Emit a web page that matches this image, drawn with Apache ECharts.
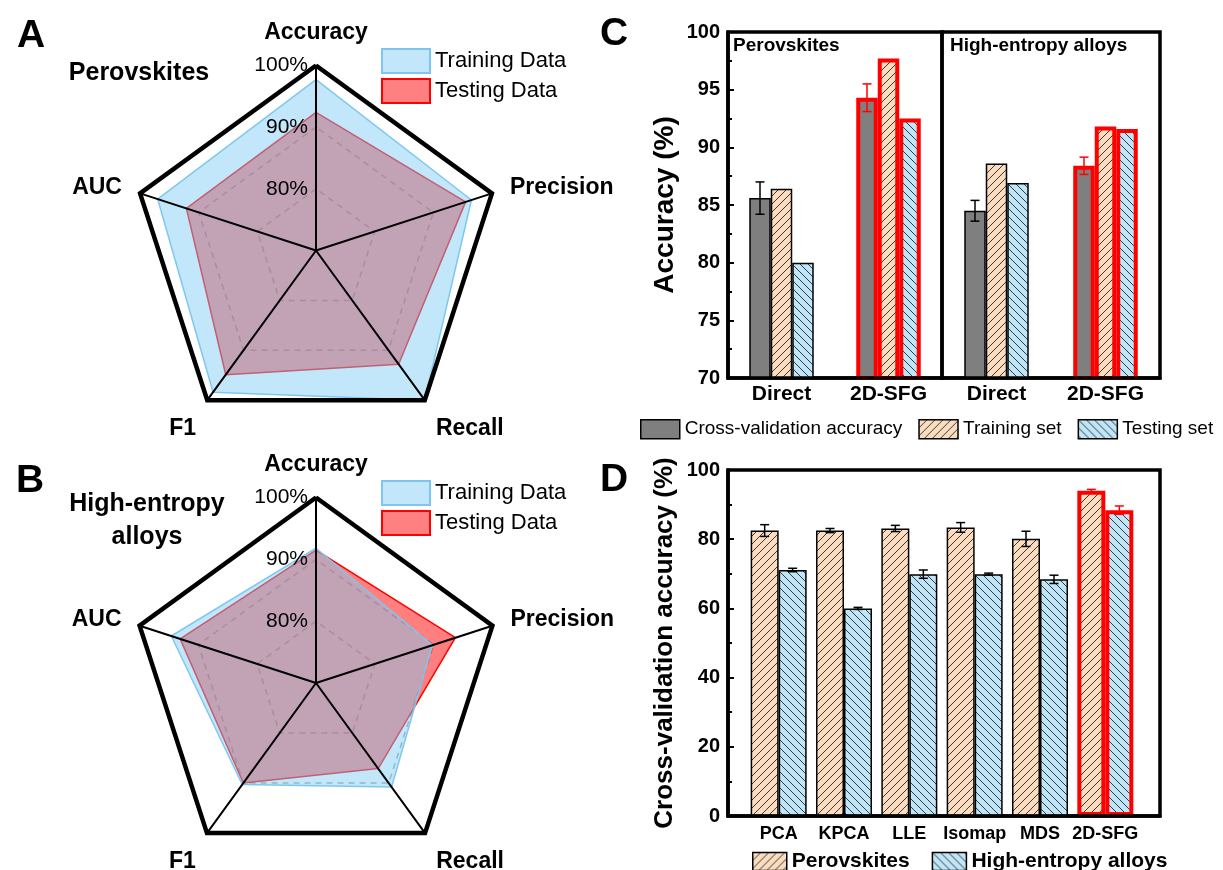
<!DOCTYPE html>
<html>
<head>
<meta charset="utf-8">
<script src="https://cdn.jsdelivr.net/npm/echarts/dist/echarts.min.js"></script>
<style>
  html, body { margin: 0; padding: 0; background: #fff; }
  #chart { width: 1223px; height: 870px; }
</style>
</head>
<body>
<div id="chart"></div>
<script>
// ---------- Radar panels (A: perovskites, B: high-entropy alloys) ----------
const metrics = ['Accuracy', 'Precision', 'Recall', 'F1', 'AUC'];
const perovTrainRadar = [97.7, 96.5, 100.0, 98.4, 97.0];
const perovTestRadar  = [92.4, 95.5, 92.8, 94.9, 92.1];
const heaTrainRadar   = [91.8, 89.8, 90.8, 90.3, 94.6];
const heaTestRadar    = [91.5, 93.7, 87.1, 90.0, 93.1];
const radarMin = 70, radarMax = 100;

// ---------- Panel C: accuracy per representation ----------
const methodsC = ['Direct', '2D-SFG'];
const cvPerov = [85.6, 94.3];
const cvPerovErr = [1.4, 1.2];
const trainPerov = [86.4, 97.7];
const testPerov = [80.0, 92.5];
const cvHea = [84.5, 88.4];
const cvHeaErr = [0.9, 0.75];
const trainHea = [88.6, 91.8];
const testHea = [86.9, 91.6];
const ticksC = { min: 70, max: 100, step: 5 };

// ---------- Panel D: cross-validation accuracy per method ----------
const methodsD = ['PCA', 'KPCA', 'LLE', 'Isomap', 'MDS', '2D-SFG'];
const perovCV    = [82.5, 82.5, 83.1, 83.4, 80.1, 94.0];
const perovCVErr = [1.7, 0.6, 0.9, 1.4, 2.2, 0.4];
const heaCV      = [71.1, 60.0, 69.9, 69.9, 68.4, 88.4];
const heaCVErr   = [0.5, 0.3, 1.2, 0.3, 1.2, 1.2];
const ticksD = { min: 0, max: 100, step: 20 };

const HILITE = '2D-SFG';
const RED = '#ff0000';
const FONT = '"Liberation Sans", Arial, sans-serif';

// radar indicators run counter-clockwise from the top
const radarOrder = [0, 4, 3, 2, 1];
const ord = arr => radarOrder.map(i => arr[i]);

// diagonal hatch fills for the bars
function hatch(bg, dir) {
  const s = 8;
  const c = document.createElement('canvas');
  c.width = s; c.height = s;
  const g = c.getContext('2d');
  g.fillStyle = bg;
  g.fillRect(0, 0, s, s);
  g.strokeStyle = '#3a3a3a';
  g.lineWidth = 1;
  g.beginPath();
  for (let k = -1; k <= 1; k++) {
    if (dir === '/') { g.moveTo(k * s, s); g.lineTo(k * s + s, 0); }
    else { g.moveTo(k * s, 0); g.lineTo(k * s + s, s); }
  }
  g.stroke();
  return { image: c, repeat: 'repeat' };
}
const peachHatch = hatch('#fbdcbf', '/');
const blueHatch = hatch('#bfe6f8', '\\');
const GREY = '#7f7f7f';

// ---------- radar components ----------
const nameStyle = { fontSize: 23, fontWeight: 'bold', color: '#000', fontFamily: FONT };
function radarPair(cy, r) {
  const center = [316, cy];
  const indicator = ord(metrics).map(n => ({ name: n, min: radarMin, max: radarMax }));
  return [
    {
      center, radius: r, startAngle: 90, shape: 'polygon', splitNumber: 3, indicator, z: 0,
      axisName: { show: false },
      axisLine: { show: false },
      axisTick: { show: false },
      axisLabel: { show: false },
      splitArea: { show: false },
      splitLine: { lineStyle: { color: '#a6a6a6', width: 1.5, type: [6, 5] } }
    },
    {
      center, radius: r, startAngle: 90, shape: 'polygon', splitNumber: 1, indicator, z: 4,
      nameGap: 19,
      axisName: {
        formatter: n => n === 'Accuracy' ? '{t|' + n + '}' : (n === 'Recall' || n === 'F1') ? '{l|' + n + '}' : '{n|' + n + '}',
        rich: {
          n: nameStyle,
          t: Object.assign({ padding: [0, 0, 2, 0] }, nameStyle),
          l: Object.assign({ padding: [26, 0, 0, 0] }, nameStyle)
        }
      },
      axisLine: { lineStyle: { color: '#000', width: 2 } },
      axisTick: { show: false },
      axisLabel: { show: false },
      splitArea: { show: false },
      splitLine: { lineStyle: { color: '#000', width: 4.5 } }
    }
  ];
}

function radarSeries(radarIndex, train, test) {
  return [
    {
      type: 'radar', radarIndex, name: 'Testing Data', symbol: 'none', z: 2,
      data: [{ value: ord(test) }],
      lineStyle: { color: RED, width: 1.5 },
      itemStyle: { color: RED },
      areaStyle: { color: 'rgba(255,0,0,0.5)', opacity: 1 }
    },
    {
      type: 'radar', radarIndex, name: 'Training Data', symbol: 'none', z: 2,
      data: [{ value: ord(train) }],
      lineStyle: { color: '#7fc6ee', width: 1.5 },
      itemStyle: { color: '#7fc6ee' },
      areaStyle: { color: 'rgba(126,204,245,0.47)', opacity: 1 }
    }
  ];
}

// percentage labels on the upward spoke
function pctRadius(polarIndex) {
  return {
    polarIndex, type: 'value', min: radarMin, max: radarMax, interval: 10, z: 5,
    axisLine: { show: false }, axisTick: { show: false }, splitLine: { show: false },
    axisLabel: {
      formatter: v => v === radarMin ? '' : v + '%',
      fontSize: 21, color: '#000', fontFamily: FONT, margin: 8
    }
  };
}

// ---------- bar helpers ----------
const BAR_C = 21.5;
const BAR_D = 28;
const edge = { borderColor: '#000', borderWidth: 1.5 };
const mark = (cats, vals) => vals.map((v, i) =>
  cats[i] === HILITE ? { value: v, itemStyle: { borderColor: RED, borderWidth: 4 } } : v);

function barsC(g, cv, train, test) {
  return [
    { type: 'bar', name: 'Cross-validation accuracy', xAxisIndex: g, yAxisIndex: g, barWidth: BAR_C, barGap: '0%',
      data: mark(methodsC, cv), itemStyle: Object.assign({ color: GREY }, edge) },
    { type: 'bar', name: 'Training set', xAxisIndex: g, yAxisIndex: g, barWidth: BAR_C, barGap: '0%',
      data: mark(methodsC, train), itemStyle: Object.assign({ color: peachHatch }, edge) },
    { type: 'bar', name: 'Testing set', xAxisIndex: g, yAxisIndex: g, barWidth: BAR_C, barGap: '0%',
      data: mark(methodsC, test), itemStyle: Object.assign({ color: blueHatch }, edge) }
  ];
}

function errBars(axisIndex, cats, vals, errs, offset) {
  return {
    type: 'custom', xAxisIndex: axisIndex, yAxisIndex: axisIndex, z: 5, silent: true,
    data: vals.map((v, i) => [i, v, errs[i]]),
    renderItem: (params, api) => {
      const i = api.value(0), v = api.value(1), e = api.value(2);
      const hi = api.coord([i, v + e]);
      const lo = api.coord([i, v - e]);
      const x = hi[0] + offset, h = 4.5;
      const style = { stroke: cats[params.dataIndex] === HILITE ? RED : '#000', lineWidth: 1.5 };
      return {
        type: 'group',
        children: [
          { type: 'line', shape: { x1: x, y1: hi[1], x2: x, y2: lo[1] }, style },
          { type: 'line', shape: { x1: x - h, y1: hi[1], x2: x + h, y2: hi[1] }, style },
          { type: 'line', shape: { x1: x - h, y1: lo[1], x2: x + h, y2: lo[1] }, style }
        ]
      };
    }
  };
}

const tickLabel = { fontSize: 20, fontWeight: 'bold', color: '#000', fontFamily: FONT, margin: 8 };
const frame = { show: true, borderColor: '#000', borderWidth: 3.5, backgroundColor: 'transparent', containLabel: false, outerBoundsMode: 'none' };
const frameLine = { show: true, lineStyle: { color: '#000', width: 3.5 } };
const inTicks = {
  z: 6,
  axisLine: frameLine,
  axisTick: { show: true, inside: true, length: 6, lineStyle: { color: '#000', width: 2 } },
  minorTick: { show: true, splitNumber: 2, length: 4, lineStyle: { color: '#000', width: 2 } },
  splitLine: { show: false }
};
const catLabelC = { fontSize: 21, fontWeight: 'bold', color: '#000', fontFamily: FONT, margin: 6, interval: 0 };

function legendBox(name, color, borderColor, borderWidth) {
  return { name, itemStyle: { color, borderColor, borderWidth } };
}

const text = (t, x, y, size, weight, align, extra) => ({
  type: 'text', x, y, silent: true,
  style: Object.assign({ text: t, fontSize: size, fontWeight: weight, fontFamily: FONT, fill: '#000',
    align: align || 'left', verticalAlign: 'middle' }, extra || {})
});

const option = {
  animation: false,
  backgroundColor: '#fff',
  textStyle: { fontFamily: FONT },
  radar: [...radarPair(250.5, 185), ...radarPair(683, 185.5)],
  polar: [
    { center: [316, 250.5], radius: 185 },
    { center: [316, 683], radius: 185.5 }
  ],
  angleAxis: [
    { polarIndex: 0, type: 'value', startAngle: 90, show: false },
    { polarIndex: 1, type: 'value', startAngle: 90, show: false }
  ],
  radiusAxis: [pctRadius(0), pctRadius(1)],
  grid: [
    Object.assign({ left: 728, top: 32, width: 214, height: 346 }, frame),
    Object.assign({ left: 942, top: 32, width: 218, height: 346 }, frame),
    Object.assign({ left: 728, top: 470, width: 432, height: 346 }, frame),
    { left: 746, top: 470, width: 392, height: 346, show: false, containLabel: false, outerBoundsMode: 'none' }
  ],
  xAxis: [
    { gridIndex: 0, type: 'category', data: methodsC, z: 6, axisLine: frameLine, axisTick: { show: false }, axisLabel: catLabelC },
    { gridIndex: 1, type: 'category', data: methodsC, z: 6, axisLine: frameLine, axisTick: { show: false }, axisLabel: catLabelC },
    { gridIndex: 2, type: 'value', min: 0, max: 1, z: 6, axisLine: frameLine, axisTick: { show: false },
      axisLabel: { show: false }, splitLine: { show: false } },
    { gridIndex: 3, type: 'category', data: methodsD, axisLine: { show: false }, axisTick: { show: false },
      axisLabel: { fontSize: 18, fontWeight: 'bold', color: '#000', fontFamily: FONT, margin: 9, interval: 0 } }
  ],
  yAxis: [
    Object.assign({
      gridIndex: 0, type: 'value', min: ticksC.min, max: ticksC.max, interval: ticksC.step,
      name: 'Accuracy (%)', nameLocation: 'middle', nameGap: 49,
      nameTextStyle: { fontSize: 28, fontWeight: 'bold', color: '#000', fontFamily: FONT },
      axisLabel: tickLabel
    }, inTicks),
    { gridIndex: 1, type: 'value', min: ticksC.min, max: ticksC.max, show: false },
    Object.assign({
      gridIndex: 2, type: 'value', min: ticksD.min, max: ticksD.max, interval: ticksD.step,
      name: 'Cross-validation accuracy (%)', nameLocation: 'middle', nameGap: 50,
      nameTextStyle: { fontSize: 26, fontWeight: 'bold', color: '#000', fontFamily: FONT },
      axisLabel: tickLabel
    }, inTicks),
    { gridIndex: 3, type: 'value', min: ticksD.min, max: ticksD.max, show: false }
  ],
  legend: [
    { left: 376, top: 43, orient: 'vertical', icon: 'rect', itemWidth: 48, itemHeight: 24, itemGap: 4, selectedMode: false,
      textStyle: { fontSize: 22, color: '#000', fontFamily: FONT },
      data: [legendBox('Training Data', '#c2e7fa', '#7fc6ee', 2), legendBox('Testing Data', '#ff8080', RED, 2)] },
    { left: 376, top: 475, orient: 'vertical', icon: 'rect', itemWidth: 48, itemHeight: 24, itemGap: 4, selectedMode: false,
      textStyle: { fontSize: 22, color: '#000', fontFamily: FONT },
      data: [legendBox('Training Data', '#c2e7fa', '#7fc6ee', 2), legendBox('Testing Data', '#ff8080', RED, 2)] },
    { left: 635, top: 414, orient: 'horizontal', icon: 'rect', itemWidth: 39, itemHeight: 19, itemGap: 16, selectedMode: false,
      textStyle: { fontSize: 19, color: '#000', fontFamily: FONT },
      data: [legendBox('Cross-validation accuracy', GREY, '#000', 1.5),
             legendBox('Training set', peachHatch, '#000', 1.5),
             legendBox('Testing set', blueHatch, '#000', 1.5)] },
    { left: 747, top: 846, orient: 'horizontal', icon: 'rect', itemWidth: 34, itemHeight: 18, itemGap: 22, selectedMode: false,
      textStyle: { fontSize: 21, fontWeight: 'bold', color: '#000', fontFamily: FONT },
      data: [legendBox('Perovskites', peachHatch, '#000', 1.5),
             legendBox('High-entropy alloys', blueHatch, '#000', 1.5)] }
  ],
  graphic: [
    text('A', 31, 36, 39, 'bold', 'center'),
    text('B', 30, 481, 39, 'bold', 'center'),
    text('C', 614, 34, 39, 'bold', 'center'),
    text('D', 614, 480, 39, 'bold', 'center'),
    text('Perovskites', 139, 73, 25, 'bold', 'center'),
    text('High-entropy\nalloys', 147, 521, 25, 'bold', 'center', { lineHeight: 33 }),
    text('Perovskites', 733, 46, 19, 'bold', 'left'),
    text('High-entropy alloys', 950, 46, 19, 'bold', 'left')
  ],
  series: [
    ...radarSeries(0, perovTrainRadar, perovTestRadar),
    ...radarSeries(2, heaTrainRadar, heaTestRadar),
    ...barsC(0, cvPerov, trainPerov, testPerov),
    ...barsC(1, cvHea, trainHea, testHea),
    errBars(0, methodsC, cvPerov, cvPerovErr, -BAR_C),
    errBars(1, methodsC, cvHea, cvHeaErr, -BAR_C),
    { type: 'bar', name: 'Perovskites', xAxisIndex: 3, yAxisIndex: 3, barWidth: BAR_D, barGap: '0%',
      data: mark(methodsD, perovCV), itemStyle: Object.assign({ color: peachHatch }, edge) },
    { type: 'bar', name: 'High-entropy alloys', xAxisIndex: 3, yAxisIndex: 3, barWidth: BAR_D, barGap: '0%',
      data: mark(methodsD, heaCV), itemStyle: Object.assign({ color: blueHatch }, edge) },
    errBars(3, methodsD, perovCV, perovCVErr, -BAR_D / 2),
    errBars(3, methodsD, heaCV, heaCVErr, BAR_D / 2)
  ]
};

const chart = echarts.init(document.getElementById('chart'), null, { renderer: 'canvas' });
chart.setOption(option);
</script>
</body>
</html>
